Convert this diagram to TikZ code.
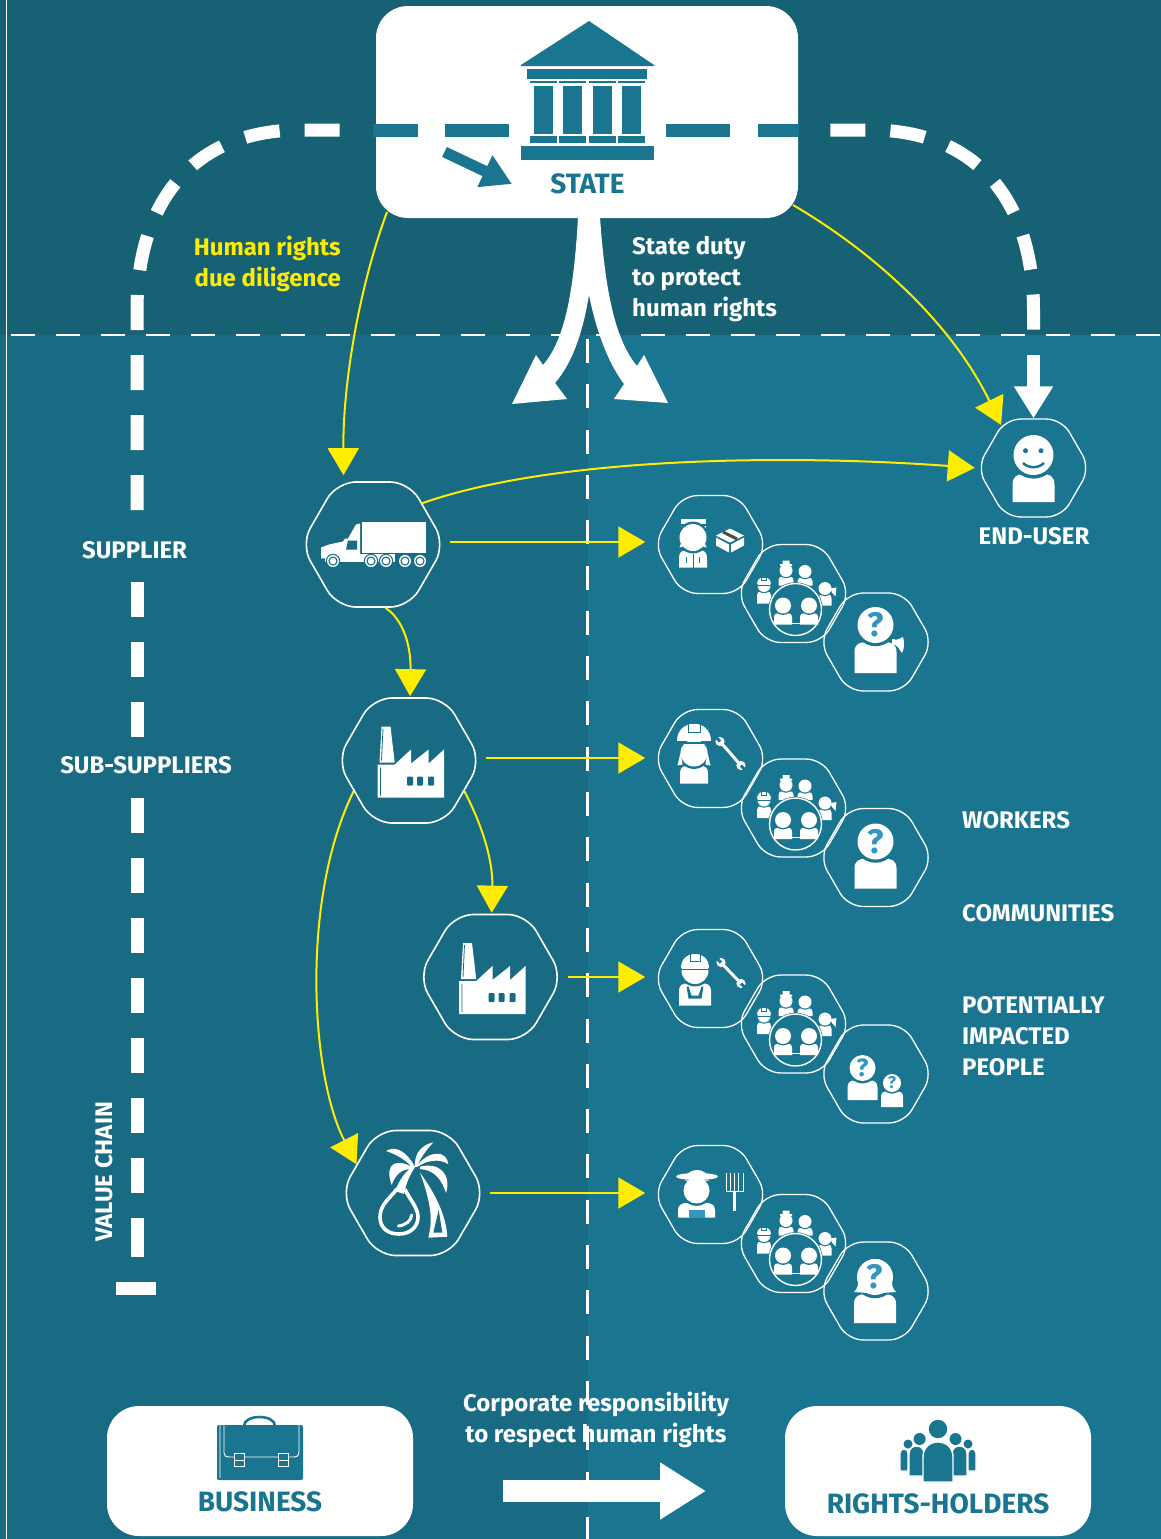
\documentclass[tikz,border=0pt]{standalone}
\usepackage{fontspec}
\setmainfont{Fira Sans}
\usetikzlibrary{arrows.meta,calc,shapes.geometric}

\definecolor{topbg}{RGB}{23,97,117}
\definecolor{leftbg}{RGB}{24,107,130}
\definecolor{rightbg}{RGB}{26,118,144}
\definecolor{boxteal}{RGB}{26,118,144}
\definecolor{arrowyellow}{RGB}{255,237,0}
\definecolor{qblue}{RGB}{50,150,190}

\newcommand{\bust}[5]{%
	\fill[white] (#1-#4,#5) -- (#1-#4,#2+1.5*#3) .. controls (#1-#4,#2+1.05*#3) and (#1-0.75*#4,#2+0.95*#3) .. (#1-0.45*#4,#2+0.95*#3) -- (#1+0.45*#4,#2+0.95*#3) .. controls (#1+0.75*#4,#2+0.95*#3) and (#1+#4,#2+1.05*#3) .. (#1+#4,#2+1.5*#3) -- (#1+#4,#5) -- cycle;
	\fill[rightbg] (#1,#2) circle (#3*1.18);
	\fill[white] (#1,#2) circle (#3);
}
\newcommand{\helmet}[3]{%
	\fill[rightbg] (#1-#3-1,#2+1.2) rectangle (#1+#3+1,#2+#3*0.2);
	\fill[white] (#1-#3,#2) .. controls (#1-#3,#2-1.35*#3) and (#1+#3,#2-1.35*#3) .. (#1+#3,#2) -- cycle;
	\draw[rightbg,line width=0.8pt] (#1-0.35*#3,#2-0.45*#3) rectangle (#1+0.35*#3,#2-#3);
}
\newcommand{\wrench}[4]{%
	\draw[white,line width=3pt] (#1,#2) -- (#3,#4);
	\fill[white] (#1,#2) circle (4.6) (#3,#4) circle (4.6);
	\draw[rightbg,line width=3pt] (#1,#2) -- ($(#1,#2)!-6pt!(#3,#4)$);
	\draw[rightbg,line width=3pt] (#3,#4) -- ($(#3,#4)!-6pt!(#1,#2)$);
}
\newcommand{\capsule}[4]{%
	\filldraw[fill=boxteal,draw=white,line width=1.4pt] (#1,#4) -- (#1,#3+0.5*#2-0.5*#1) .. controls (#1,#3-0.17*#2+0.17*#1) and (#2,#3-0.17*#2+0.17*#1) .. (#2,#3+0.5*#2-0.5*#1) -- (#2,#4) -- cycle;
}

\begin{document}
\begin{tikzpicture}[x=1pt,y=-1pt]

	\tikzstyle{whitebox} = [rectangle, fill=white, inner sep=0pt, rounded corners=32pt]
	\tikzstyle{hexbig} = [regular polygon, regular polygon sides=6, draw=white, line width=1.6pt, minimum size=144.4pt, inner sep=0pt, rounded corners=19pt]
	\tikzstyle{hexsmall} = [regular polygon, regular polygon sides=6, draw=white, line width=1.3pt, minimum size=113pt, inner sep=0pt, rounded corners=15pt]
	\tikzstyle{chainline} = [draw=white, line width=13pt]
	\tikzstyle{chaindash} = [chainline, dash pattern=on 35pt off 25pt]
	\tikzstyle{tealdash} = [draw=boxteal, line width=13pt]
	\tikzstyle{thindash} = [draw=white, line width=2.4pt, dash pattern=on 24pt off 21pt]
	\tikzstyle{yelline} = [draw=arrowyellow, line width=2pt, -{Triangle[length=27pt,width=31pt]}]
	\tikzstyle{lbltext} = [text=white, inner sep=0pt, font=\fontsize{24}{31}\selectfont\bfseries]
	\tikzstyle{boxtext} = [text=boxteal, inner sep=0pt, font=\fontsize{28}{31}\selectfont\bfseries]
	\tikzstyle{qmark} = [text=qblue, inner sep=0pt, font=\fontsize{34}{34}\selectfont\bfseries]
	\tikzstyle{qmarksmall} = [qmark, font=\fontsize{21}{21}\selectfont\bfseries]

	\tikzset{
		smileicon/.pic={
			\bust{0}{-13}{20}{21}{34}
			\fill[rightbg] (-8,-17.3) circle (2.5) (7.5,-17.3) circle (2.5);
			\draw[rightbg,line width=2.5pt] (-10.5,-5) .. controls (-5,0.5) and (5,0.5) .. (10.5,-5);
		},
		truckicon/.pic={
			\fill[white] (-11,-22.5) rectangle (53,8.5);
			\fill[white] (-52,14) -- (-52,3) -- (-44,0) -- (-30,-3) -- (-28,-6) -- (-25,-6) -- (-17,-20) -- (-13,-21) -- (-13,11) -- cycle;
			\fill[leftbg] (-25,-4) -- (-16,-4) -- (-16,5) -- (-27,5) -- cycle;
			\fill[white] (-48,9) rectangle (22,17.5);
			\foreach \wx in {-40,-2,13,32,47}{
				\fill[leftbg] (\wx,16.5) circle (7.2);
				\fill[white] (\wx,16.5) circle (6);
				\fill[leftbg] (\wx,16.5) circle (4.6);
				\fill[white] (\wx,16.5) circle (3.3);
			}
		},
		factoryicon/.pic={
			\fill[white] (-27.5,-34) -- (-18.5,-34) -- (-14.3,2) -- (-29.5,2) -- cycle;
			\fill[white] (-31.5,37) -- (-31.5,4) -- (-14.3,4) -- (2,-11) -- (2,3) -- (19.6,-11) -- (19.6,3) -- (35,-11) -- (35,37) -- cycle;
			\draw[leftbg,line width=0.8pt] (-28.5,7) -- (-28.5,35) (-26,-32) -- (-27.5,0);
			\fill[leftbg,rounded corners=1pt] (-2,16) rectangle (4,25) (8,16) rectangle (14,25) (19,16) rectangle (25,25);
		},
		palmicon/.pic={
			\fill[white] (2,-26.3) .. controls (1,-39.7) and (8.7,-48) .. (20.3,-50.7) .. controls (12,-41.3) and (7,-34.7) .. (4,-26) -- cycle;
			\fill[white] (2,-26.3) .. controls (-9.7,-46.3) and (-20,-46) .. (-27,-42) .. controls (-14.7,-38) and (-4.7,-31.3) .. (-1,-25) -- cycle;
			\fill[white] (0,-25.3) .. controls (-14.7,-34.7) and (-29.7,-31.3) .. (-21.3,-8) .. controls (-18,-18) and (-11.3,-24.7) .. (0,-24) -- cycle;
			\fill[white] (4.3,-28) .. controls (17,-43) and (33.7,-43) .. (35.3,-28.7) .. controls (27,-34.7) and (13.7,-33) .. (4.3,-26) -- cycle;
			\fill[white] (7,-26.3) .. controls (27,-31.3) and (38.7,-18) .. (33,0) .. controls (28.7,-13) and (22,-23) .. (7,-24) -- cycle;
			\fill[white] (7,-20.3) .. controls (22,0) and (33,22) .. (34.3,43.7) -- (15.3,44.7) .. controls (19,30) and (20,15) .. (7,-20.3) -- cycle;
			\fill[leftbg] (25.7,17) -- (29.3,39.7) -- (20.3,39.7) -- cycle;
			\fill[white] (2,-26) -- (-1.3,-26) .. controls (-9,-20) and (-14,-12) .. (-18,-2) -- (-9,1) .. controls (-7,-10) and (-3,-18) .. (2,-26) -- cycle;
			\draw[white,line width=3.6pt] (-16,-4) .. controls (-24,6) and (-33,12) .. (-33,24) .. controls (-33,36) and (-24,41) .. (-14,41) .. controls (-3,41) and (5,34) .. (5,24) .. controls (5,14) and (-4,6) .. (-8,-4);
			\draw[white,line width=3pt,line cap=round] (-14.7,33) .. controls (-7,32) and (-2,28) .. (-1.3,22);
		},
		parcelicon/.pic={
			\fill[white] (-30,-26) rectangle (-5,-15);
			\fill[rightbg] (-30,-20.5) rectangle (-5,-19);
			\bust{-17.5}{-7}{13.5}{14}{23}
			\fill[white] (-31,3) -- (-27,-8) -- (-24,1) -- cycle (-4,3) -- (-8,-8) -- (-11,1) -- cycle;
			\draw[rightbg,line width=0.8pt] (-17.5,9) -- (-17.5,23) (-24,12) -- (-24,18) (-11,12) -- (-11,18);
			\fill[white] (19.5,-16) -- (33.5,-9) -- (19.5,-2) -- (5.5,-9) -- cycle;
			\fill[white] (5.5,-7) -- (18.5,0) -- (18.5,8) -- (5.5,1) -- cycle (33.5,-7) -- (20.5,0) -- (20.5,8) -- (33.5,1) -- cycle;
			\draw[black!70,line width=3pt] (12.5,-12.5) -- (26.5,-5.5);
		},
		wrenchicon/.pic={
			\bust{-16.5}{-5.5}{13.5}{14}{25}
			\fill[white] (-33,7) -- (-30,-6) -- (-28,6) -- cycle (0,7) -- (-3,-6) -- (-5,6) -- cycle;
			\helmet{-16.5}{-18}{17}
			\wrench{9.5}{-17}{30.5}{7}
		},
		overallicon/.pic={
			\bust{-15.5}{-8}{13.5}{16}{27}
			\fill[rightbg] (-24,8) -- (-22,20) -- (-9,20) -- (-7,8) -- (-9,8) -- (-12,17) -- (-19,17) -- (-22,8) -- cycle;
			\helmet{-15.5}{-11}{14}
			\wrench{10.5}{-16}{30.5}{5}
		},
		farmericon/.pic={
			\bust{-14}{-4}{13}{18.5}{23}
			\fill[white] (-25.5,-14) .. controls (-25,-28) and (-2,-28) .. (-1.5,-14) -- cycle;
			\fill[rightbg] (-30,-16) rectangle (4,-14.5);
			\fill[white] (-13.5,-18) ellipse (21 and 3.5);
			\fill[qblue] (-22,15) rectangle (-6,23);
			\foreach \tx in {15.5,19.75,24,28.25,32.5}
				\draw[white,line width=1pt] (\tx,-22) -- (\tx,-3);
			\draw[white,line width=1.5pt] (15.5,-3) -- (32.5,-3);
			\draw[white,line width=2.4pt] (24,-3) -- (24,16);
		},
		groupicon/.pic={
			\bust{-7.5}{-23}{6.5}{7.5}{-8}
			\fill[white] (-13.5,-29.5) rectangle (-1.5,-27.5) (-11,-33) rectangle (-4,-28);
			\bust{11.5}{-22}{6.5}{7.5}{-8}
			\bust{-29.5}{-8}{6.5}{7}{10}
			\helmet{-29.5}{-9.5}{7}
			\bust{31.5}{-5}{6.5}{6.5}{12}
			\fill[white] (37,-5) -- (43,-6) -- (42,3) -- (38.5,-1) -- cycle;
			\fill[rightbg] (2,16) circle (27.3);
			\draw[white,line width=1.4pt] (2,16) circle (26);
			\bust{-10.5}{12}{8}{9}{31}
			\bust{15.5}{12}{8}{9}{31}
			\draw[white,line width=1pt] (-2,29.5) -- (7,29.5);
		},
		asktailicon/.pic={
			\bust{-0.5}{-17}{18}{21}{31}
			\fill[white] (16,-3) .. controls (22,-1) and (24,-4) .. (27,-5) .. controls (29,2) and (28,7) .. (26,11) .. controls (23,7) and (22,3) .. (16,2) -- cycle;
			\node[qmark] (qTail) at (-0.5,-17) {?};
		},
		askplainicon/.pic={
			\bust{-0.5}{-16}{18}{21}{31}
			\node[qmark] (qPlain) at (-0.5,-16) {?};
		},
		asktwoicon/.pic={
			\bust{-13.5}{-6}{13}{15}{26}
			\bust{16}{9}{9}{11}{33}
			\node[qmarksmall,font=\fontsize{25}{25}\selectfont\bfseries] (qBig) at (-13.5,-6) {?};
			\node[qmarksmall,font=\fontsize{17}{17}\selectfont\bfseries] (qSmall) at (16,9) {?};
		},
		askhairicon/.pic={
			\bust{-1}{-14}{18}{21}{32}
			\fill[white] (-1,-32) .. controls (-14,-32) and (-17,-20) .. (-18,-8) .. controls (-18,-3) and (-21,0) .. (-22,1) -- (-8,2) -- (6,2) -- (20,1) .. controls (19,0) and (16,-3) .. (16,-8) .. controls (15,-20) and (12,-32) .. (-1,-32) -- cycle;
			\node[qmark] (qHair) at (-1,-14) {?};
		},
		buildingicon/.pic={
			\fill[boxteal] (589,21) -- (654,65) -- (654,66) -- (521,66) -- (521,65) -- cycle;
			\fill[boxteal] (527,69) rectangle (647,79);
			\foreach \cx in {530,559,589,618}{
				\fill[boxteal] (\cx,81) rectangle (\cx+27,83);
				\fill[boxteal] (\cx+4,86) rectangle (\cx+23,134);
				\fill[boxteal] (\cx,136) rectangle (\cx+27,143);
			}
			\fill[boxteal] (521,146) rectangle (654,160);
		},
		caseicon/.pic={
			\draw[boxteal,line width=2.6pt] (-16,-45) .. controls (-16,-57) and (15,-57) .. (15,-45);
			\fill[boxteal,rounded corners=2pt] (-43,-46) rectangle (43,9);
			\draw[white,line width=0.9pt] (-40,7) -- (-40,-46) (-36,-46) -- (-36,-18) .. controls (-36,-15) and (-34,-14) .. (-30,-14) -- (33,-14) .. controls (37,-14) and (39,-15) .. (39,-20) -- (39,-46);
			\foreach \kx in {-25.6,18.7}{
				\filldraw[fill=boxteal,draw=white,line width=0.9pt] (\kx,-18) rectangle (\kx+9.7,-5);
				\draw[white,line width=0.9pt] (\kx,-11) -- (\kx+9.7,-11);
			}
		},
		peopleicon/.pic={
			\capsule{-38}{-30}{-22}{0}
			\capsule{30}{38}{-22}{0}
			\fill[boxteal] (-30,-27) circle (4.5) (30,-27) circle (4.5);
			\capsule{-29}{-14}{-25}{5}
			\capsule{14}{29}{-25}{5}
			\fill[boxteal] (-18.4,-32) circle (6) (17.5,-32) circle (6);
			\capsule{-15}{15}{-29}{11}
			\fill[boxteal] (0,-42) circle (9.2);
		}
	}

	\useasboundingbox (0,0) rectangle (1161,1539);
	\fill[topbg] (0,0) rectangle (1161,335);
	\fill[leftbg] (0,335) rectangle (587.5,1539);
	\fill[rightbg] (587.5,335) rectangle (1161,1539);
	\draw[white,line width=1pt] (6.5,0) -- (6.5,1539);

	\draw[thindash] (11,335) -- (1161,335);
	\draw[thindash,dash pattern=on 24pt off 21.3pt] (587.5,339) -- (587.5,1539);

	\draw[chaindash] (137,510) -- (137,310) .. controls (137,200) and (195,130) .. (300,130) -- (349,130);
	\draw[chaindash] (1033.5,329.5) -- (1033.5,310) .. controls (1033.5,200) and (975.5,130) .. (870.5,130) -- (822,130);
	\draw[chaindash] (137,582) -- (137,738);
	\draw[chaindash] (137,798) -- (137,1200);
	\draw[chainline] (137,1218) -- (137,1257);
	\draw[chainline] (116,1288.5) -- (156,1288.5);

	\node[whitebox, minimum width=422pt, minimum height=212pt] (state) at (587,112) {};
	\node[whitebox, minimum width=306pt, minimum height=130pt] (business) at (260,1471) {};
	\node[whitebox, minimum width=306pt, minimum height=130pt] (rights) at (938,1471) {};

	\draw[tealdash] (373,130) -- (418,130);
	\draw[tealdash] (445,130) -- (509,130);
	\draw[tealdash] (666,130) -- (730,130);
	\draw[tealdash] (758,130) -- (799,130);
	\pic at (0,0) {buildingicon};
	\coordinate (smallFrom) at (444.5,152);
	\coordinate (smallTo) at (512,184);
	\draw[boxteal, line width=11pt, -{Triangle[length=30pt,width=33pt]}] (smallFrom) -- (smallTo);
	\node[boxtext] (stateText) at (587.5,184) {STATE};

	\fill[white] (578,217) .. controls (574,290) and (565,340) .. (543,365) -- (536,355) -- (512,404) -- (567,399) -- (555,383) .. controls (575,360) and (584,325) .. (589,295) .. controls (595,325) and (606,360) .. (624,384) -- (614,399) -- (668,403) -- (644,355) -- (637,366) .. controls (615,340) and (605,290) .. (600,217) -- cycle;

	\node[hexbig] (truck) at (373,544.5) {};
	\node[hexbig] (factoryA) at (409,760.5) {};
	\node[hexbig] (factoryB) at (490.5,977) {};
	\node[hexbig] (palm) at (413,1193) {};
	\foreach \nm/\xx/\yy in {enduser/1033.5/468,
		workA/710.5/544.5,groupA/793.5/593.5,askA/876/642,
		workB/710.5/758.5,groupB/793.5/808,askB/876/857.5,
		workC/710.5/978.5,groupC/793.5/1024,askC/876/1074,
		workD/710.5/1194.5,groupD/793.5/1243.5,askD/876/1291}
		\node[hexsmall] (\nm) at (\xx,\yy) {};

	\pic at (enduser) {smileicon};
	\pic at (truck) {truckicon};
	\pic at (factoryA) {factoryicon};
	\pic at (factoryB) {factoryicon};
	\pic at (palm) {palmicon};
	\pic at (workA) {parcelicon};
	\pic at (workB) {wrenchicon};
	\pic at (workC) {overallicon};
	\pic at (workD) {farmericon};
	\foreach \nm in {groupA,groupB,groupC,groupD}
		\pic at (\nm) {groupicon};
	\pic at (askA) {asktailicon};
	\pic at (askB) {askplainicon};
	\pic at (askC) {asktwoicon};
	\pic at (askD) {askhairicon};
	\pic at (business) {caseicon};
	\pic at (rights) {peopleicon};

	\coordinate (stateSW) at (387,212);
	\coordinate (stateSE) at (793,205);
	\draw[yelline, shorten >=6pt] (stateSW) .. controls (360,285) and (343,380) .. (truck.115);
	\draw[yelline] (stateSE) .. controls (870,250) and (950,320) .. (enduser.127);
	\draw[yelline, shorten >=1.5pt] (truck.40) .. controls (560,455) and (800,455) .. (enduser.west);
	\draw[yelline, shorten >=1pt] (truck.-79) .. controls (400,617) and (411,640) .. (factoryA.89);
	\draw[yelline, shorten >=1pt] (factoryA.-29) .. controls (482,825) and (493,860) .. (factoryB.89);
	\draw[yelline] (factoryA.209) .. controls (300,900) and (311,1076) .. (palm.153);
	\foreach \fr/\tw/\yy in {truck/workA/542,factoryA/workB/758,factoryB/workC/977,palm/workD/1193}
		\draw[yelline, shorten <=4pt, shorten >=8pt] (\fr.east |- 0,\yy) -- (\tw.west |- 0,\yy);

	\coordinate (endShaft) at (1033.5,355);
	\draw[white, line width=13pt, -{Triangle[length=32pt,width=37pt]}] (endShaft) -- (enduser.north);
	\coordinate (respFrom) at (503,1491);
	\coordinate (respTo) at (706,1491);
	\draw[white, line width=21.7pt, -{Triangle[length=46pt,width=54pt]}] (respFrom) -- (respTo);

	\node[lbltext, text=arrowyellow, align=right, anchor=east] (dueText) at (341,263.5) {Human rights\\due diligence};
	\node[lbltext, align=left, anchor=west] (dutyText) at (632,279) {State duty\\to protect\\human rights};
	\node[lbltext] (supplierText) at (134.5,550) {SUPPLIER};
	\node[lbltext] (subText) at (146,765) {SUB-SUPPLIERS};
	\node[lbltext, rotate=90] (chainText) at (104,1172) {VALUE CHAIN};
	\node[lbltext] (endText) at (1034,536) {END-USER};
	\node[lbltext, anchor=west] (workersText) at (962,820) {WORKERS};
	\node[lbltext, anchor=west] (commText) at (962,913) {COMMUNITIES};
	\node[lbltext, align=left, anchor=west] (impactText) at (962,1036) {POTENTIALLY\\IMPACTED\\PEOPLE};
	\node[lbltext, align=center] (respText) at (596,1419.5) {Corporate responsibility\\to respect human rights};
	\node[boxtext] (businessText) at (260,1502) {BUSINESS};
	\node[boxtext] (rightsText) at (938,1504) {RIGHTS-HOLDERS};

\end{tikzpicture}
\end{document}
